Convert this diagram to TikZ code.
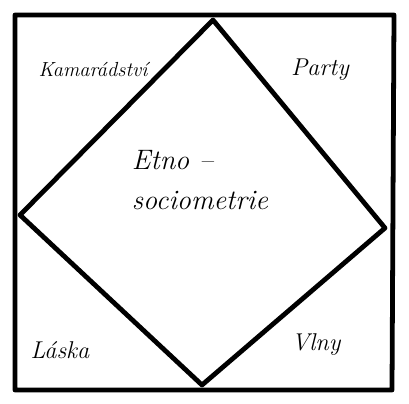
\documentclass[tikz,border=0pt]{standalone}
\usepackage{tikz}
\usetikzlibrary{positioning,calc}
\tikzset{edge/.style={line width=3.4pt,line join=round,line cap=round},
 lbl/.style={font=\LARGE\itshape,inner sep=1pt},
 ctr/.style={font=\fontsize{20}{28}\selectfont\itshape,align=left,inner sep=1pt}}
\begin{document}
\begin{tikzpicture}[x=0.025cm,y=-0.025cm]
\useasboundingbox (0,0) rectangle (409,403);
\coordinate(sq1) at (15,15);\coordinate(sq2) at (394,15);
\coordinate(sq3) at (392,390);\coordinate(sq4) at (15,390);
\coordinate(dt) at (213,20);\coordinate(dr) at (385,228);
\coordinate(db) at (202,385);\coordinate(dl) at (20,215);
\draw[edge](sq1)--(sq2)--(sq3)--(sq4)--cycle;
\draw[edge](dt)--(dr)--(db)--(dl)--cycle;
\node[lbl,font=\fontsize{14.5}{17}\selectfont\itshape](kam) at (93,70){Kamarádství};
\node[lbl](par) at (320,70){Party};
\node[ctr](etn) at (200,180){Etno --\\sociometrie};
\node[lbl](las) at (60,350){Láska};
\node[lbl](vln) at (316,345){Vlny};
\end{tikzpicture}
\end{document}
